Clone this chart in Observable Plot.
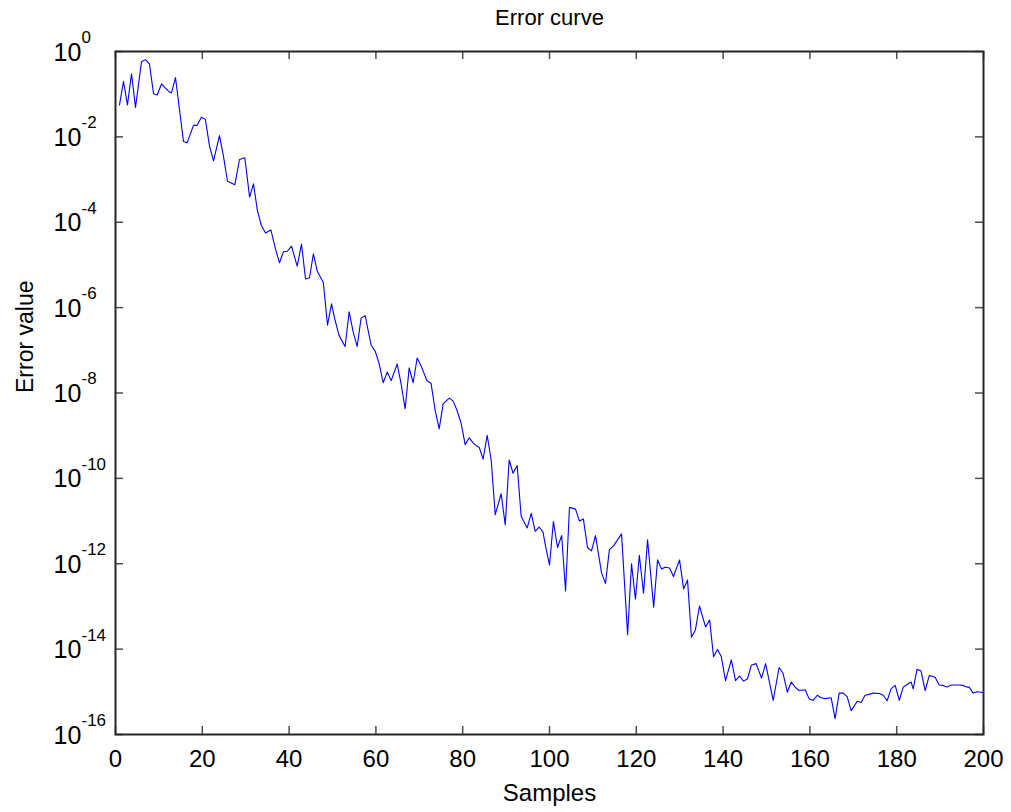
<!DOCTYPE html>
<html>
<head>
<meta charset="utf-8">
<script src="https://cdn.jsdelivr.net/npm/d3@7"></script>
<script src="https://cdn.jsdelivr.net/npm/@observablehq/plot@0.6"></script>
<style>
  html, body { margin: 0; padding: 0; background: #fff; }
  #chart { width: 1011px; height: 812px; }
</style>
</head>
<body>
<div id="chart"></div>
<script>
// Sample positions (x)
const sampleX = [
  0.92, 1.84, 2.76, 3.69, 4.61, 5.99, 6.91, 7.83, 8.76, 9.6, 10.6, 11.5, 12.44, 12.9, 13.82,
  15.67, 16.5, 17.97, 18.8, 19.8, 20.7, 21.66, 22.58, 23.96, 24.9, 25.8, 27.5, 28.57, 29.8,
  30.9, 31.8, 32.7, 33.6, 34.56, 35.8, 36.87, 37.79, 38.7, 39.6, 40.55, 41.86, 42.86, 43.78,
  44.7, 45.6, 46.5, 47.9, 48.85, 49.77,
  50.46, 51.5, 52.9, 53.84, 54.76, 55.68, 56.6, 57.53, 58.9, 59.83, 60.75, 61.67, 62.6, 63.52,
  64.9, 65.82, 66.74, 67.67, 68.59, 69.51, 70.43, 71.8, 72.7, 73.66, 74.58, 75.5, 76.9, 77.8,
  78.7, 79.65, 80.57, 81.5, 82.4, 83.3, 83.8, 84.7, 85.64, 86.56, 87.5, 88.86, 89.8, 90.7,
  91.6, 92.55, 93.47, 94.85, 95.8, 96.7, 97.6, 98.5,
  99.08, 100.0, 100.9, 101.85, 102.8, 103.7, 104.6, 106.0, 106.9, 107.8, 108.76, 109.68, 110.6,
  112.0, 112.9, 113.8, 114.75, 115.67, 116.6, 118.0, 118.9, 119.8, 120.7, 121.66, 122.6, 124.0,
  124.9, 125.8, 126.7, 127.65, 128.57, 129.96, 130.9, 131.8, 132.7, 133.6, 134.56, 135.95,
  136.9, 137.8, 138.7, 139.6, 140.55, 141.9, 142.86, 143.8, 144.7, 145.6, 146.5, 147.6, 148.85,
  149.8,
  151.54, 152.9, 153.8, 154.8, 155.7, 156.6, 157.5, 158.9, 159.8, 160.75, 161.7, 162.6, 163.5,
  164.9, 165.8, 166.75, 167.7, 168.6, 169.5, 170.9, 171.8, 172.7, 173.66, 174.6, 176.0, 176.9,
  177.8, 178.7, 179.65, 180.6, 181.5, 182.4, 183.3, 183.8, 184.7, 185.6, 186.56, 187.5, 188.4,
  188.9, 189.8, 190.7, 191.6, 192.55, 193.5, 194.4, 195.3, 196.2, 196.7, 197.6, 198.5, 199.5, 200
];

// Error value exponents (log10 of the error)
const errorLog10 = [
  -1.25, -0.70, -1.25, -0.52, -1.31, -0.24, -0.19, -0.29, -0.99, -1.02, -0.76, -0.86, -0.95, -0.97, -0.61,
  -2.11, -2.14, -1.73, -1.73, -1.54, -1.59, -2.21, -2.56, -1.97, -2.47, -3.04, -3.12, -2.53, -2.49,
  -3.41, -3.10, -3.73, -4.07, -4.25, -4.18, -4.63, -4.95, -4.69, -4.68, -4.56, -5.03, -4.51, -5.33,
  -5.30, -4.74, -5.15, -5.42, -6.41, -5.91,
  -6.24, -6.65, -6.91, -6.10, -6.57, -6.91, -6.24, -6.19, -6.88, -7.02, -7.31, -7.76, -7.51, -7.71,
  -7.32, -7.79, -8.37, -7.41, -7.76, -7.18, -7.37, -7.72, -7.77, -8.41, -8.84, -8.25, -8.12, -8.19,
  -8.41, -8.71, -9.21, -9.05, -9.17, -9.25, -9.27, -9.55, -8.99, -9.57, -10.85, -10.36, -11.09, -9.57,
  -9.88, -9.70, -10.89, -11.16, -10.82, -11.24, -11.14, -11.26,
  -11.58, -12.03, -11.01, -11.62, -11.34, -12.64, -10.68, -10.72, -11.00, -10.95, -11.62, -11.70, -11.34,
  -12.22, -12.46, -11.67, -11.58, -11.44, -11.30, -13.66, -12.00, -12.83, -11.80, -12.69, -11.44, -13.02,
  -11.91, -12.12, -12.08, -12.10, -12.30, -11.91, -12.59, -12.38, -13.72, -13.56, -12.99, -13.48,
  -13.32, -14.18, -14.01, -14.18, -14.74, -14.25, -14.74, -14.63, -14.75, -14.70, -14.38, -14.34, -14.68,
  -14.34,
  -15.20, -14.43, -14.56, -15.01, -14.77, -14.89, -14.97, -14.95, -15.16, -15.20, -15.08, -15.14, -15.16,
  -15.14, -15.63, -15.03, -15.03, -15.12, -15.44, -15.22, -15.25, -15.08, -15.06, -15.03, -15.04, -15.08,
  -15.21, -14.93, -14.85, -15.20, -14.89, -14.83, -14.77, -14.93, -14.47, -14.51, -14.97, -14.62, -14.64,
  -14.67, -14.84, -14.85, -14.89, -14.84, -14.84, -14.84, -14.85, -14.89, -14.89, -15.03, -15.00, -15.01, -15.03
];

const xTicks = [0, 20, 40, 60, 80, 100, 120, 140, 160, 180, 200];
const yTickExponents = [0, -2, -4, -6, -8, -10, -12, -14, -16];

const titleText = "Error curve";
const xLabelText = "Samples";
const yLabelText = "Error value";

const data = sampleX.map((x, i) => ({x, err: Math.pow(10, errorLog10[i])}));
const yTickValues = yTickExponents.map(e => Math.pow(10, e));

const W = 1011, H = 812;
const mL = 115, mR = 28, mT = 51, mB = 78;
const innerW = W - mL - mR, innerH = H - mT - mB;
const tickLen = 8;
const font = "'Liberation Sans', Arial, Helvetica, sans-serif";

const chart = Plot.plot({
  width: W,
  height: H,
  marginLeft: mL,
  marginRight: mR,
  marginTop: mT,
  marginBottom: mB,
  style: {fontFamily: font, background: "#fff", color: "#000", overflow: "visible"},
  x: {domain: [0, 200], axis: null},
  y: {type: "log", domain: [1e-16, 1], axis: null},
  marks: [
    // inward tick marks on all four sides
    Plot.tickY(yTickValues, {y: d => d, insetRight: innerW - tickLen, stroke: "#4d4d4d", strokeWidth: 1.5}),
    Plot.tickY(yTickValues, {y: d => d, insetLeft: innerW - tickLen, stroke: "#4d4d4d", strokeWidth: 1.5}),
    Plot.tickX(xTicks, {x: d => d, insetTop: innerH - tickLen, stroke: "#4d4d4d", strokeWidth: 1.5}),
    Plot.tickX(xTicks, {x: d => d, insetBottom: innerH - tickLen, stroke: "#4d4d4d", strokeWidth: 1.5}),
    Plot.line(data, {x: "x", y: "err", stroke: "#0000ff", strokeWidth: 1.1}),
    Plot.frame({stroke: "#262626", strokeWidth: 2}),
    // x tick labels
    Plot.text(xTicks, {x: d => d, frameAnchor: "bottom", dy: 25, text: d => String(d), fontSize: 24, lineAnchor: "middle", fill: "#000"}),
    // y tick labels: base "10" plus superscript exponent
    Plot.text(yTickExponents, {y: e => Math.pow(10, e), frameAnchor: "left", text: () => "10", textAnchor: "start", dx: -62, dy: 1, fontSize: 25, lineAnchor: "middle", fill: "#000"}),
    Plot.text(yTickExponents, {y: e => Math.pow(10, e), frameAnchor: "left", text: e => String(e), textAnchor: "start", dx: -34, dy: -14, fontSize: 17, lineAnchor: "middle", fill: "#000"}),
    // title and axis labels
    Plot.text([titleText], {frameAnchor: "top", dy: -34, fontSize: 22, lineAnchor: "middle", fill: "#000"}),
    Plot.text([xLabelText], {frameAnchor: "bottom", dy: 59, fontSize: 24, lineAnchor: "middle", fill: "#000"}),
    Plot.text([yLabelText], {frameAnchor: "left", dx: -90, rotate: -90, fontSize: 23, lineAnchor: "middle", fill: "#000"})
  ]
});

document.getElementById("chart").appendChild(chart);
</script>
</body>
</html>
